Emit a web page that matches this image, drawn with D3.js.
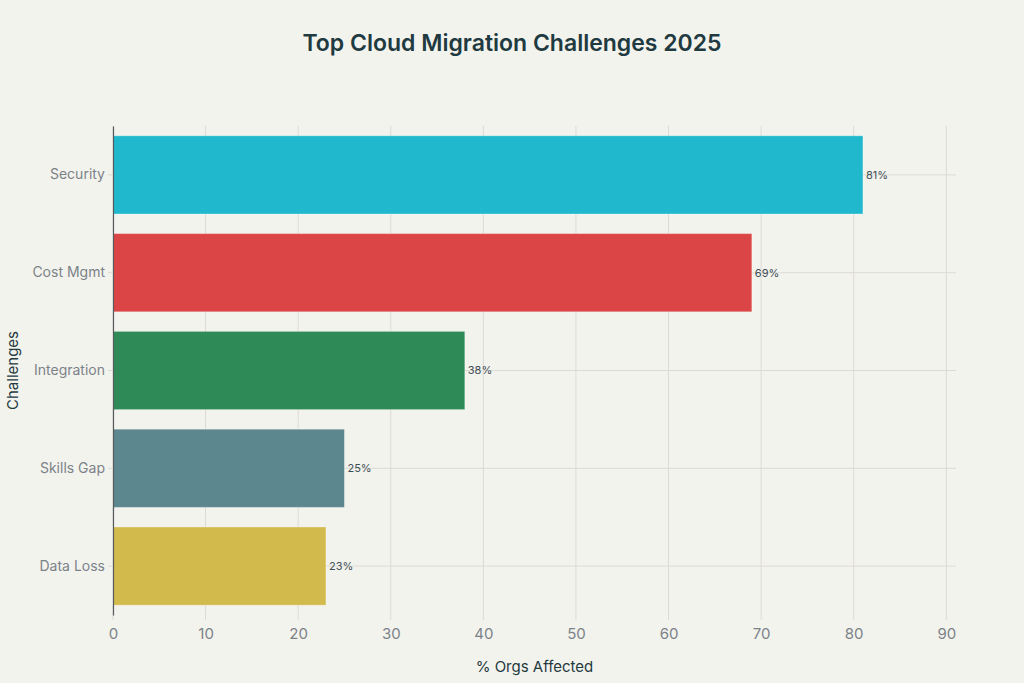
<!DOCTYPE html>
<html>
<head>
<meta charset="utf-8">
<script src="https://cdn.jsdelivr.net/npm/d3@7.9.0/dist/d3.min.js"></script>
<style>
  body { margin: 0; background: #f3f3ee; }
  svg { display: block; font-family: Inter, "Liberation Sans", sans-serif; }
</style>
</head>
<body>
<div id="chart"></div>
<script>
const categories = ["Security", "Cost Mgmt", "Integration", "Skills Gap", "Data Loss"];
const values = [81, 69, 38, 25, 23];
const colors = ["#1FB8CD", "#DB4545", "#2E8B57", "#5D878F", "#D2BA4C"];
const xTicks = [0, 10, 20, 30, 40, 50, 60, 70, 80, 90];

const width = 1024, height = 683;
const margin = { top: 126, right: 68, bottom: 68, left: 113 };
const innerWidth = width - margin.left - margin.right;
const innerHeight = height - margin.top - margin.bottom;

const svg = d3.select("#chart").append("svg")
    .attr("width", width)
    .attr("height", height);

svg.append("rect")
    .attr("width", width)
    .attr("height", height)
    .attr("fill", "#f3f3ee");

svg.append("text")
    .attr("x", width / 2)
    .attr("y", 51)
    .attr("text-anchor", "middle")
    .attr("fill", "#1f3a40")
    .style("font-size", "23px")
    .style("font-weight", "600")
    .text("Top Cloud Migration Challenges 2025");

const chart = svg.append("g")
    .attr("transform", "translate(" + margin.left + "," + margin.top + ")");

const xScale = d3.scaleLinear()
    .domain([0, 91.05])
    .range([0, innerWidth]);

const yScale = d3.scaleBand()
    .domain(categories)
    .range([0, innerHeight])
    .paddingInner(0.2)
    .paddingOuter(0.1);

// grid
chart.selectAll(".vgrid")
    .data(xTicks)
    .join("line")
    .attr("class", "vgrid")
    .attr("x1", d => xScale(d))
    .attr("x2", d => xScale(d))
    .attr("y1", 0)
    .attr("y2", innerHeight + 5)
    .attr("stroke", "#dcdad5")
    .attr("stroke-width", 1);

chart.selectAll(".hgrid")
    .data(categories)
    .join("line")
    .attr("class", "hgrid")
    .attr("x1", -5)
    .attr("x2", innerWidth)
    .attr("y1", d => yScale(d) + yScale.bandwidth() / 2)
    .attr("y2", d => yScale(d) + yScale.bandwidth() / 2)
    .attr("stroke", "#dcdad5")
    .attr("stroke-width", 1);

// bars
chart.selectAll(".bar")
    .data(values)
    .join("rect")
    .attr("class", "bar")
    .attr("x", 0)
    .attr("y", (_, i) => yScale(categories[i]))
    .attr("width", d => xScale(d))
    .attr("height", yScale.bandwidth())
    .attr("fill", (_, i) => colors[i])
    .attr("stroke", "rgba(255,255,255,0.35)")
    .attr("stroke-width", 1);

chart.selectAll(".bar-label")
    .data(values)
    .join("text")
    .attr("class", "bar-label")
    .attr("x", d => xScale(d) + 3)
    .attr("y", (_, i) => yScale(categories[i]) + yScale.bandwidth() / 2)
    .attr("dy", "0.35em")
    .attr("fill", "#3e4f56")
    .style("font-size", "11px")
    .text(d => d + "%");

// axes
const xAxis = chart.append("g")
    .attr("transform", "translate(0," + innerHeight + ")")
    .call(d3.axisBottom(xScale).tickValues(xTicks).tickSize(0).tickPadding(13))
    .attr("font-family", "Inter, 'Liberation Sans', sans-serif")
    .attr("font-size", 15);
xAxis.select(".domain").remove();
xAxis.selectAll("text")
    .attr("fill", "#7b8288");

const yAxis = chart.append("g")
    .call(d3.axisLeft(yScale).tickSize(0).tickPadding(8))
    .attr("font-family", "Inter, 'Liberation Sans', sans-serif")
    .attr("font-size", 14);
yAxis.select(".domain")
    .attr("stroke", "#555b5e")
    .attr("stroke-width", 1.2);
yAxis.selectAll("text")
    .attr("fill", "#7b8288");

chart.append("text")
    .attr("x", innerWidth / 2)
    .attr("y", innerHeight + 57)
    .attr("text-anchor", "middle")
    .attr("fill", "#1f3a40")
    .style("font-size", "15px")
    .text("% Orgs Affected");

chart.append("text")
    .attr("transform", "rotate(-90)")
    .attr("x", -innerHeight / 2)
    .attr("y", -margin.left + 18)
    .attr("text-anchor", "middle")
    .attr("fill", "#1f3a40")
    .style("font-size", "15px")
    .text("Challenges");
</script>
</body>
</html>
